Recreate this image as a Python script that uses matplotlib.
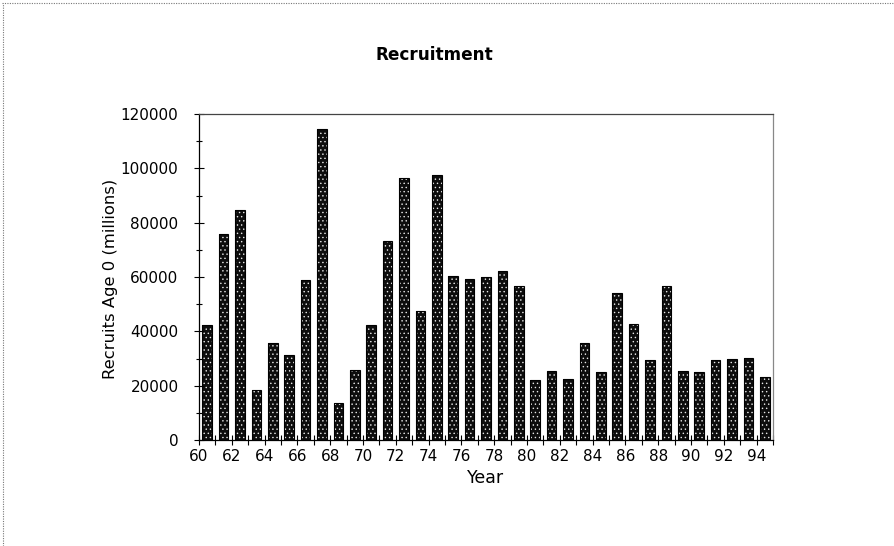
import matplotlib
matplotlib.use("Agg")
import matplotlib.pyplot as plt
from matplotlib.lines import Line2D
from matplotlib.ticker import MultipleLocator, FixedLocator, FuncFormatter

years = list(range(60, 95))
recruits = [42300, 76000, 84500, 18400, 35700, 31300, 58800, 114400, 13700, 25800,
            42300, 73400, 96400, 47600, 97500, 60200, 59100, 60000, 62300, 56800,
            22000, 25400, 22300, 35700, 24900, 54200, 42700, 29600, 56800, 25300,
            25000, 29500, 29700, 30300, 23300]
xtick_labels = [str(y) for y in range(60, 95, 2)]

plt.rcParams['font.family'] = ['DejaVu Sans']
plt.rcParams['hatch.linewidth'] = 0.5

W, H = 895, 546
fig = plt.figure(figsize=(W / 100, H / 100), dpi=100)
ax = fig.add_axes([199 / W, 1 - 440 / H, 574 / W, 326 / H])

xs = [y + 0.5 for y in years]
ax.bar(xs, recruits, width=0.58, facecolor='#0d0d0d', edgecolor='#e8e8e8',
       hatch='....', linewidth=0)
ax.bar(xs, recruits, width=0.58, fill=False, edgecolor='black', linewidth=0.8)

ax.set_xlim(60, 95)
ax.set_ylim(0, 120000)
ax.xaxis.set_major_locator(FixedLocator(list(range(60, 95, 2))))
ax.set_xticklabels(xtick_labels)
ax.xaxis.set_minor_locator(FixedLocator(list(range(61, 96, 2))))
ax.yaxis.set_major_locator(MultipleLocator(20000))
ax.yaxis.set_minor_locator(MultipleLocator(10000))
ax.yaxis.set_major_formatter(FuncFormatter(lambda v, p: f"{int(v)}"))

ax.tick_params(axis='both', which='major', direction='inout', length=7.5, width=0.8,
               labelsize=11, color='black')
ax.tick_params(axis='both', which='minor', direction='inout', length=5, width=0.8,
               color='black')
ax.tick_params(axis='y', which='major', pad=11)
ax.tick_params(axis='x', which='major', pad=3)
ax.tick_params(axis='x', which='minor', length=7.5)

for s in ['left', 'bottom']:
    ax.spines[s].set_linewidth(0.9)
    ax.spines[s].set_color('black')
ax.spines['top'].set_color('#444444')
ax.spines['top'].set_linewidth(0.9)
ax.spines['right'].set_color('#888888')
ax.spines['right'].set_linewidth(0.9)

ax.set_ylabel('Recruits Age 0 (millions)', fontsize=11.8, va='center')
ax.yaxis.set_label_coords((111 - 199) / 574, (440 - 279) / 326)
ax.set_xlabel('Year', fontsize=12.5, va='center')
ax.xaxis.set_label_coords(0.5, -(478 - 440) / 326)

ax.set_title('Recruitment', fontsize=12.2, fontweight='bold', pad=0,
             x=(434 - 199) / 574, y=(440 - 55) / 326, va='center')

# dotted chart-area border (top and left)
fig.add_artist(Line2D([2 / W, 1.0], [1 - 3 / H, 1 - 3 / H], transform=fig.transFigure,
                      color='#777777', linestyle=(0, (1, 1.2)), linewidth=0.8))
fig.add_artist(Line2D([3 / W, 3 / W], [0.0, 1 - 3 / H], transform=fig.transFigure,
                      color='#777777', linestyle=(0, (1, 1.2)), linewidth=0.8))

fig.savefig('out.png', dpi=100)
